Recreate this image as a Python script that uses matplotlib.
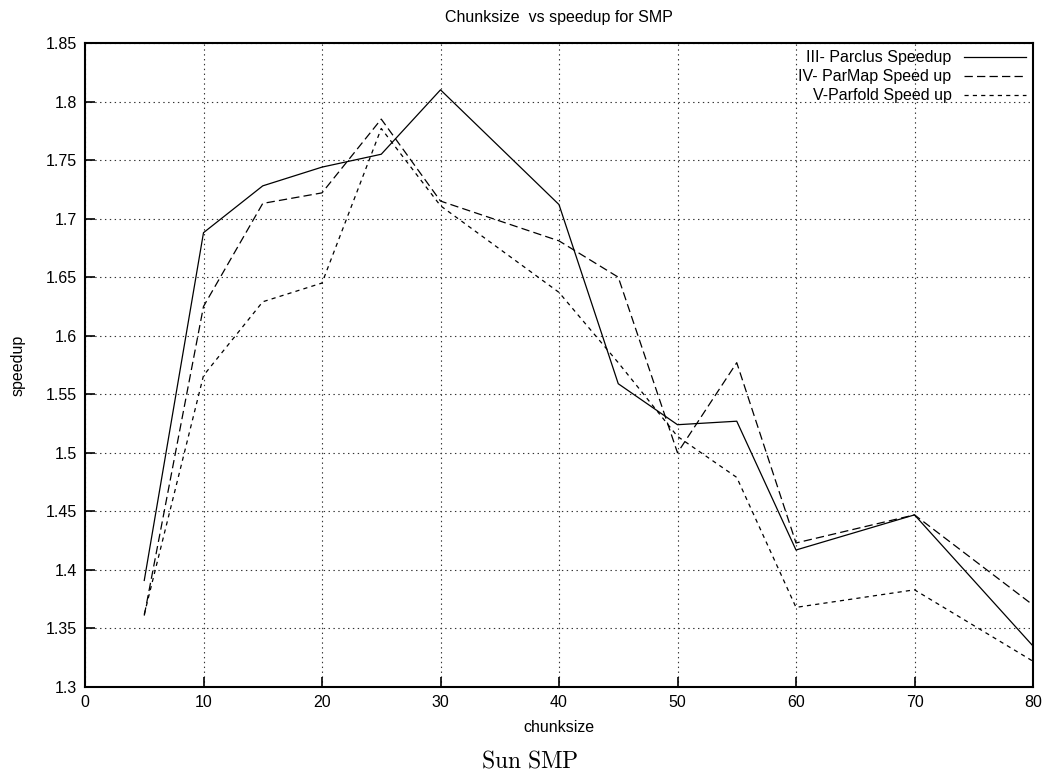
import matplotlib.pyplot as plt

plt.rcParams['font.family'] = ['Liberation Sans', 'DejaVu Sans']
plt.rcParams['lines.scale_dashes'] = False
plt.rcParams['mathtext.fontset'] = 'cm'

chunksize = [5, 10, 15, 20, 25, 30, 40, 45, 50, 55, 60, 70, 80]
parclus = [1.391, 1.688, 1.728, 1.744, 1.755, 1.810, 1.712, 1.559, 1.524, 1.527, 1.417, 1.447, 1.335]
parmap = [1.361, 1.625, 1.713, 1.722, 1.785, 1.715, 1.681, 1.650, 1.500, 1.577, 1.423, 1.447, 1.370]
parfold = [1.362, 1.566, 1.629, 1.645, 1.777, 1.711, 1.637, 1.577, 1.514, 1.479, 1.368, 1.383, 1.322]

labels = ["III- Parclus Speedup", "IV- ParMap Speed up", "V-Parfold Speed up"]

fs = 11.5

fig = plt.figure(figsize=(10.47, 7.78), dpi=100)
ax = fig.add_axes([85 / 1047, 91 / 778, 948 / 1047, 644 / 778])

lw = 0.9
ax.plot(chunksize, parclus, color="black", lw=lw, label=labels[0])
ax.plot(chunksize, parmap, color="black", lw=lw, dashes=(6, 3), label=labels[1])
ax.plot(chunksize, parfold, color="black", lw=lw, dashes=(3, 3), label=labels[2])

ax.set_xlim(0, 80)
ax.set_ylim(1.3, 1.85)
ax.set_xticks(range(0, 81, 10))
ax.set_yticks([1.3 + 0.05 * i for i in range(12)])
ax.set_yticklabels(["1.3", "1.35", "1.4", "1.45", "1.5", "1.55", "1.6", "1.65",
                    "1.7", "1.75", "1.8", "1.85"])
ax.tick_params(direction="in", length=7, width=1.2, labelsize=fs, pad=6,
               top=False, right=False)
ax.grid(True, color="#333333", lw=0.8, dashes=(1, 2.5))

for s in ax.spines.values():
    s.set_linewidth(1.5)

ax.set_xlabel("chunksize", fontsize=fs, labelpad=7)
ax.set_ylabel("speedup", fontsize=fs, labelpad=14)
ax.set_title("Chunksize  vs speedup for SMP", fontsize=fs, pad=15)

leg = ax.legend(loc="upper right", markerfirst=False, frameon=False, fontsize=fs,
                handlelength=3.9, handletextpad=0.75, labelspacing=0.25,
                borderaxespad=0.1, borderpad=0.35)
for col in leg._legend_box._children[-1]._children:
    col.align = "right"

fig.text(530 / 1047, 16 / 778, r"$\mathrm{Sun\ SMP}$", ha="center", va="center",
         fontsize=17)

fig.savefig("out.png", dpi=100)
